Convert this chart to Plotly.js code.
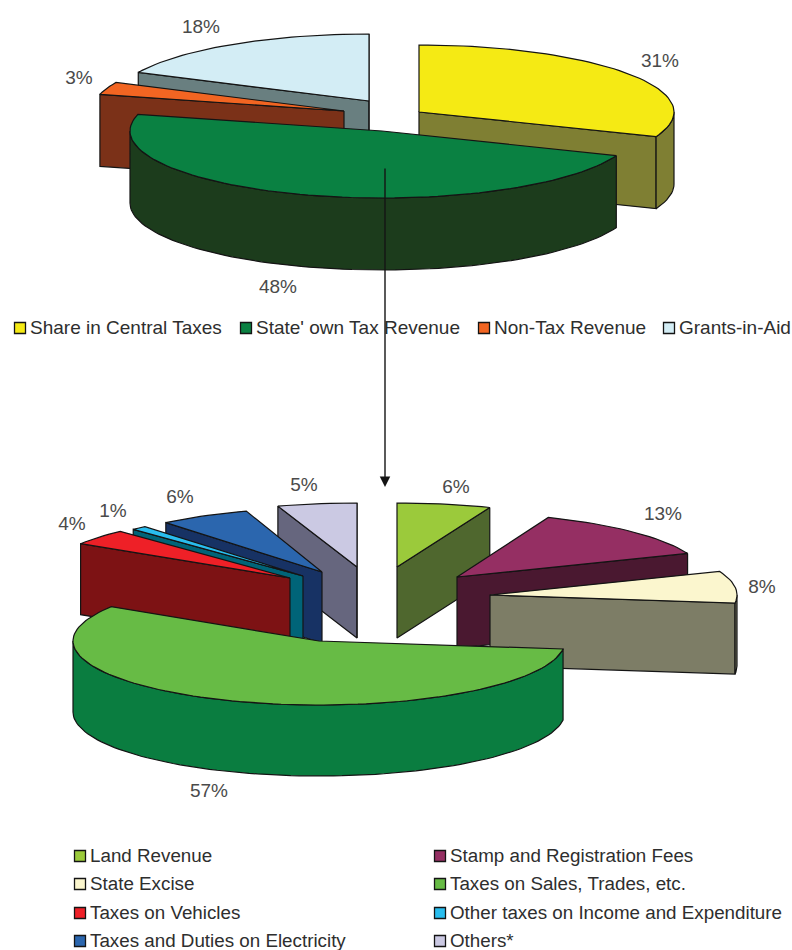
<!DOCTYPE html>
<html>
<head>
<meta charset="utf-8">
<script src="https://cdn.plot.ly/plotly-3.0.1.min.js"></script>
<style>html,body{margin:0;padding:0;background:#fff}#chart{width:792px;height:950px}</style>
</head>
<body>
<div id="chart"></div>
<script>
// Revenue sources, clockwise from twelve o'clock
const revenueCategories = ["Share in Central Taxes", "State' own Tax Revenue", "Non-Tax Revenue", "Grants-in-Aid"];
const revenueShares = [31, 48, 3, 18];

// Breakdown of the State's own tax revenue, clockwise from twelve o'clock
const taxCategories = ["Land Revenue", "Stamp and Registration Fees", "State Excise", "Taxes on Sales, Trades, etc.",
  "Taxes on Vehicles", "Other taxes on Income and Expenditure", "Taxes and Duties on Electricity", "Others*"];
const taxShares = [6, 13, 8, 57, 4, 1, 6, 5];

// Face colours: top surface, then the shaded sides
const revenueTop = ["#f5ea14", "#0a8142", "#f26522", "#d3edf5"];
const revenueSide = ["#7f7f33", "#1c3c1c", "#7b3118", "#697f80"];
const taxTop = ["#9bca3b", "#952f63", "#fbf6ce", "#67bb45", "#ee2027", "#29bdee", "#2b66ae", "#cbc9e3"];
const taxSide = ["#4f672e", "#4a1830", "#7d7d66", "#0a7d40", "#7d1214", "#006478", "#173264", "#66667e"];

// Exploded slice hubs and the order slices are painted, back to front
const revenuePie = {
  hubX: [419, 382, 344, 369], hubY: [112, 131, 111, 101], radius: [255, 252, 252, 255],
  squash: 67, depth: 72, order: [3, 2, 0, 1]
};
const taxPie = {
  hubX: [397, 457, 490, 319, 290, 303, 322, 357], hubY: [567, 577, 595, 641, 578, 576, 572, 567],
  radius: [252, 248, 247, 246, 248, 248, 245, 256],
  squash: 64, depth: 71, order: [0, 1, 2, 7, 6, 5, 4, 3]
};

// Label anchors for the percentages and legends
const revenueLabelX = [660, 278, 79, 201], revenueLabelY = [62, 288, 79, 28];
const taxLabelX = [456, 663, 762, 209, 72, 113, 180, 304], taxLabelY = [488, 515, 588, 792, 525, 512, 498, 486];
const revenueKeyX = [20, 246, 484, 669], revenueKeyY = [328, 328, 328, 328];
const taxKeyX = [80, 440, 80, 440, 80, 440, 80, 440], taxKeyY = [856, 856, 884, 884, 913, 913, 941, 941];

const INK = "#141414";
const FONT = "Liberation Sans, Arial, sans-serif";
const rad = d => d * Math.PI / 180;

function polygon(xs, ys, fill) {
  return {
    type: "scatter", mode: "lines", x: xs.concat(xs[0]), y: ys.concat(ys[0]),
    fill: "toself", fillcolor: fill, line: {color: INK, width: 1.2},
    hoverinfo: "skip", showlegend: false
  };
}

// One extruded slice: visible side faces first, the top surface last
function sliceTraces(hx, hy, R, r, depth, a0, a1, top, side) {
  const px = a => hx + R * Math.sin(rad(a));
  const py = a => hy - r * Math.cos(rad(a));
  const arc = (from, to) => {
    const n = Math.max(2, Math.ceil((to - from) / 2)), out = [];
    for (let i = 0; i <= n; i++) out.push(from + (to - from) * i / n);
    return out;
  };
  const out = [];
  const wall = (xs, ys) => polygon(
    xs.concat(xs.slice().reverse()),
    ys.concat(ys.slice().reverse().map(v => v + depth)), side);
  if (px(a0) < hx) out.push(wall([hx, px(a0)], [hy, py(a0)]));
  if (px(a1) > hx) out.push(wall([px(a1), hx], [py(a1), hy]));
  const front0 = Math.max(a0, 90), front1 = Math.min(a1, 270);
  if (front0 < front1) {
    const rim = arc(front0, front1);
    out.push(wall(rim.map(px), rim.map(py)));
  }
  const edge = arc(a0, a1);
  out.push(polygon([hx].concat(edge.map(px)), [hy].concat(edge.map(py)), top));
  return out;
}

function pieTraces(shares, pie, tops, sides) {
  const bounds = [0];
  shares.forEach(s => bounds.push(bounds[bounds.length - 1] + s * 3.6));
  return pie.order.flatMap(i => sliceTraces(pie.hubX[i], pie.hubY[i], pie.radius[i], pie.squash, pie.depth,
    bounds[i], bounds[i + 1], tops[i], sides[i]));
}

function percentLabels(shares, xs, ys) {
  return {
    type: "scatter", mode: "text", x: xs, y: ys, text: shares.map(s => s + "%"),
    textposition: "middle center", textfont: {family: FONT, size: 19, color: "#4a4a4a"},
    hoverinfo: "skip", showlegend: false
  };
}

function legendKeys(names, colors, xs, ys, size) {
  return [{
    type: "scatter", mode: "markers", x: xs, y: ys,
    marker: {symbol: "square", size: 11, color: colors, line: {color: INK, width: 1.3}},
    hoverinfo: "skip", showlegend: false
  }, {
    type: "scatter", mode: "text", x: xs.map(v => v + 10), y: ys.map(v => v + 1), text: names,
    textposition: "middle right", textfont: {family: FONT, size: size, color: "#2e2e2e"},
    hoverinfo: "skip", showlegend: false
  }];
}

const traces = [
  ...pieTraces(revenueShares, revenuePie, revenueTop, revenueSide),
  ...pieTraces(taxShares, taxPie, taxTop, taxSide),
  percentLabels(revenueShares, revenueLabelX, revenueLabelY),
  percentLabels(taxShares, taxLabelX, taxLabelY),
  ...legendKeys(revenueCategories, revenueTop, revenueKeyX, revenueKeyY, 19),
  ...legendKeys(taxCategories, taxTop, taxKeyX, taxKeyY, 18.8)
];

const hidden = {visible: false, fixedrange: true};
const layout = {
  width: 792, height: 950, margin: {l: 0, r: 0, t: 0, b: 0},
  paper_bgcolor: "#fff", plot_bgcolor: "#fff", showlegend: false,
  xaxis: {...hidden, range: [0, 792]},
  yaxis: {...hidden, range: [950, 0]},
  // Arrow leading from the State's own tax slice to its breakdown
  annotations: [{
    x: 385, y: 487, ax: 385, ay: 167, xref: "x", yref: "y", axref: "x", ayref: "y",
    text: "", showarrow: true, arrowhead: 2, arrowsize: 1.5, arrowwidth: 1.4, arrowcolor: INK
  }]
};
Plotly.newPlot("chart", traces, layout, {displayModeBar: false, staticPlot: true});
</script>
</body>
</html>
